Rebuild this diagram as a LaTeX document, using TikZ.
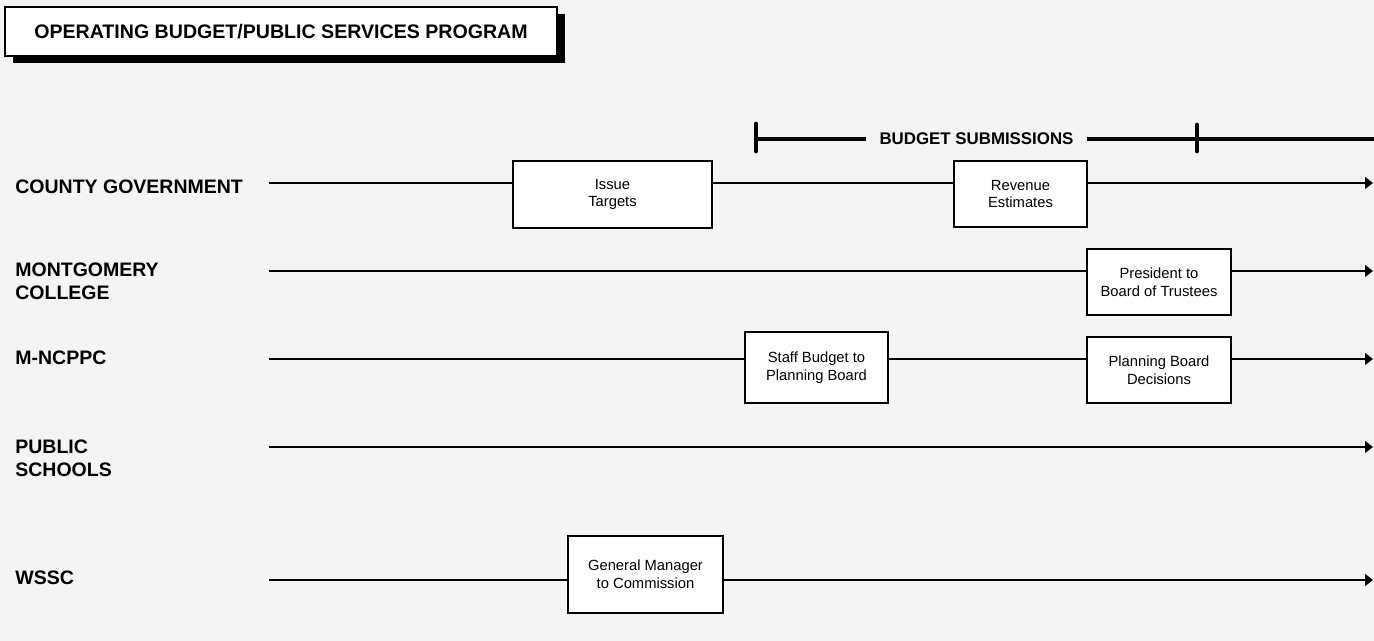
\documentclass[tikz,border=0pt]{standalone}
\usepackage{fontspec}
\setmainfont{Liberation Sans}
\usetikzlibrary{arrows.meta,shadows}
\definecolor{paper}{HTML}{F4F4F4}
\begin{document}
\begin{tikzpicture}[x=0.02cm,y=-0.02cm,
	agency/.style={anchor=base west,align=left,inner sep=0,font=\fontsize{11.1}{13.6}\selectfont\bfseries},
	track/.style={line width=1pt,-{Triangle[length=0.16cm,width=0.24cm]}},
	stage/.style={draw,line width=1.1pt,fill=white,inner sep=0,align=center,font=\fontsize{8.4}{10}\selectfont},
	bar/.style={line width=2.3pt},
	bartick/.style={line width=2.8pt,line cap=round}]
	\useasboundingbox (0,0) rectangle (1374,641);
	\fill[paper] (-5,-5) rectangle (1380,646);
	\node[draw,line width=1.2pt,fill=white,minimum width=11.04cm,minimum height=0.98cm,inner sep=0,
		drop shadow={shadow xshift=0.16cm,shadow yshift=-0.14cm,fill=black,opacity=1},
		font=\fontsize{11.15}{13}\selectfont\bfseries] (title) at (281,31.5) {OPERATING BUDGET/PUBLIC SERVICES PROGRAM};
	% budget submissions bar
	\coordinate (sub start) at (756,139);
	\coordinate (sub split) at (1197,139);
	\coordinate (sub end) at (1376,139);
	\node[inner xsep=0.27cm,inner ysep=0,font=\fontsize{9.6}{11}\selectfont\bfseries] (subm) at (976.5,139) {BUDGET SUBMISSIONS};
	\draw[bar] (sub start) -- (subm.west) (subm.east) -- (sub end);
	\draw[bartick] (sub start) ++(0,-15) -- ++(0,27);
	\draw[bartick] (sub split) ++(0,-14) -- ++(0,26);
	% time lines
	\coordinate (cg start) at (269,183);   \coordinate (cg end) at (1373,183);
	\coordinate (mc start) at (269,271);   \coordinate (mc end) at (1373,271);
	\coordinate (park start) at (269,359); \coordinate (park end) at (1373,359);
	\coordinate (mcps start) at (269,447); \coordinate (mcps end) at (1373,447);
	\coordinate (wssc start) at (269,580); \coordinate (wssc end) at (1373,580);
	\draw[track] (cg start) -- (cg end);
	\draw[track] (mc start) -- (mc end);
	\draw[track] (park start) -- (park end);
	\draw[track] (mcps start) -- (mcps end);
	\draw[track] (wssc start) -- (wssc end);
	% agencies (base is the last line)
	\node[agency] (cg) at (15,194) {COUNTY GOVERNMENT};
	\node[agency] (mc) at (15,300) {MONTGOMERY\\COLLEGE};
	\node[agency] (park) at (15,365) {M-NCPPC};
	\node[agency] (mcps) at (15,477) {PUBLIC\\SCHOOLS};
	\node[agency] (wssc) at (15,585) {WSSC};
	% steps
	\node[stage,minimum width=3.98cm,minimum height=1.34cm] (targets) at (612.5,194.5) {Issue\\Targets};
	\node[stage,minimum width=2.66cm,minimum height=1.32cm] (revenue) at (1020.5,194) {Revenue\\Estimates};
	\node[stage,minimum width=2.88cm,minimum height=1.32cm] (trustees) at (1159,282) {President to\\Board of Trustees};
	\node[stage,minimum width=2.86cm,minimum height=1.42cm] (staff) at (816.5,367.5) {Staff Budget to\\Planning Board};
	\node[stage,minimum width=2.88cm,minimum height=1.32cm] (decisions) at (1159,370) {Planning Board\\Decisions};
	\node[stage,minimum width=3.1cm,minimum height=1.54cm] (manager) at (645.5,574.5) {General Manager\\to Commission};
\end{tikzpicture}
\end{document}
